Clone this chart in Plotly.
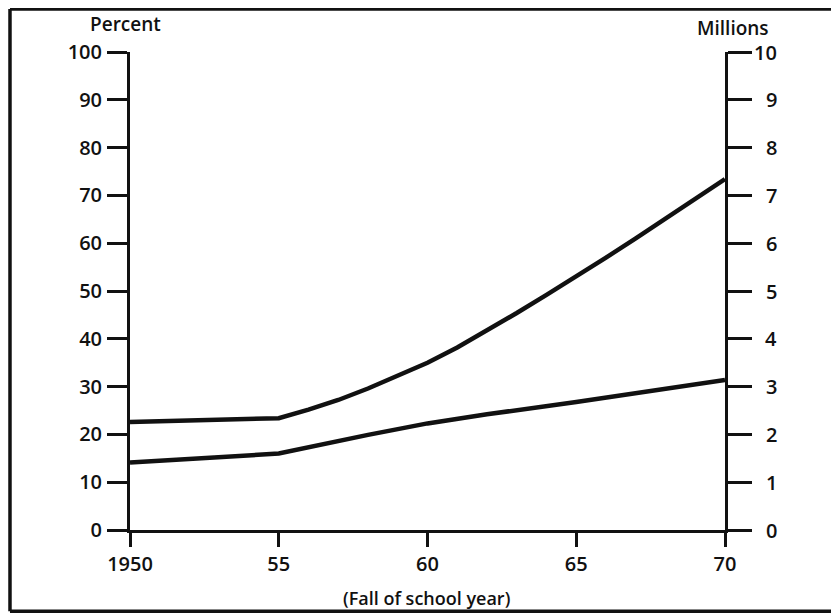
import plotly.graph_objects as go

# ---- data ----
years_upper = [1950, 1955, 1956, 1957, 1958, 1959, 1960, 1961, 1962, 1963,
               1964, 1965, 1966, 1967, 1968, 1969, 1970]
millions_upper = [2.26, 2.34, 2.52, 2.72, 2.96, 3.22, 3.50, 3.82, 4.17, 4.54,
                  4.92, 5.30, 5.70, 6.10, 6.52, 6.94, 7.34]

years_lower = [1950, 1955, 1958, 1960, 1962, 1965, 1970]
percent_lower = [14.1, 16.0, 19.9, 22.3, 24.2, 26.8, 31.4]

x_tickvals = [1950, 1955, 1960, 1965, 1970]
x_ticktext = ["1950", "55", "60", "65", "70"]
left_ticks = list(range(0, 101, 10))
right_ticks = list(range(0, 11))

FONT = "Open Sans"
INK = "#111111"
TICKFONT = dict(family=FONT, size=20, color=INK, weight=600)

fig = go.Figure()
fig.add_trace(go.Scatter(x=years_lower, y=percent_lower, mode="lines",
                         line=dict(color=INK, width=4.5), yaxis="y",
                         showlegend=False, hoverinfo="skip"))
fig.add_trace(go.Scatter(x=years_upper, y=millions_upper, mode="lines",
                         line=dict(color=INK, width=4.5),
                         yaxis="y2", showlegend=False, hoverinfo="skip"))

# page body adds an 8px offset; size the figure so the page fits the window
fig.update_layout(
    width=831, height=606,
    margin=dict(l=122, r=114, t=44, b=84),
    paper_bgcolor="white", plot_bgcolor="white",
    font=dict(family=FONT, size=20, color=INK),
    xaxis=dict(range=[1950, 1970], tickvals=x_tickvals, ticktext=x_ticktext,
               showgrid=False, zeroline=False, showline=True, linecolor=INK,
               linewidth=3, ticks="outside", ticklen=14, tickwidth=3,
               tickcolor=INK, ticklabelstandoff=0, tickfont=TICKFONT),
    yaxis=dict(range=[0, 100], tickvals=left_ticks, showgrid=False,
               zeroline=False, showline=True, linecolor=INK, linewidth=3,
               ticks="outside", ticklen=20, tickwidth=2.5, tickcolor=INK,
               ticklabelstandoff=1, tickfont=TICKFONT),
    yaxis2=dict(range=[0, 10], tickvals=right_ticks, overlaying="y",
                side="right", showgrid=False, zeroline=False, showline=True,
                linecolor=INK, linewidth=3, ticks="outside", ticklen=24,
                tickwidth=2.5, tickcolor=INK, showticklabels=False),
)

# right-axis tick labels, right-aligned as in the original
for v in right_ticks:
    fig.add_annotation(text=str(v), xref="paper", yref="y2", x=1.091, y=v,
                       xanchor="right", yanchor="middle", showarrow=False,
                       font=TICKFONT)

# outer frame: top, left and bottom edges (right side runs off the page)
FX0, FX1, FY0, FY1 = -0.2017, 1.30, -0.170, 1.09
frame_line = dict(color=INK, width=3.5)
fig.add_shape(type="line", xref="paper", yref="paper", x0=FX0, x1=FX1,
              y0=FY1, y1=FY1, line=frame_line, layer="below")
fig.add_shape(type="line", xref="paper", yref="paper", x0=FX0, x1=FX0,
              y0=FY0, y1=FY1, line=frame_line, layer="below")
fig.add_shape(type="line", xref="paper", yref="paper", x0=FX0, x1=FX1,
              y0=FY0, y1=FY0, line=frame_line, layer="below")

TITLEFONT = dict(family=FONT, size=19, color=INK, weight=600)
fig.add_annotation(text="Percent", xref="paper", yref="paper",
                   x=-0.0084, y=1.0586, showarrow=False,
                   xanchor="center", yanchor="middle", font=TITLEFONT)
fig.add_annotation(text="Millions", xref="paper", yref="paper",
                   x=1.0134, y=1.050, showarrow=False,
                   xanchor="center", yanchor="middle", font=TITLEFONT)
fig.add_annotation(text="(Fall of school year)", xref="paper", yref="paper",
                   x=0.4975, y=-0.142, showarrow=False,
                   xanchor="center", yanchor="middle",
                   font=dict(family=FONT, size=18, color=INK, weight=600))

fig.write_html("out.html")
